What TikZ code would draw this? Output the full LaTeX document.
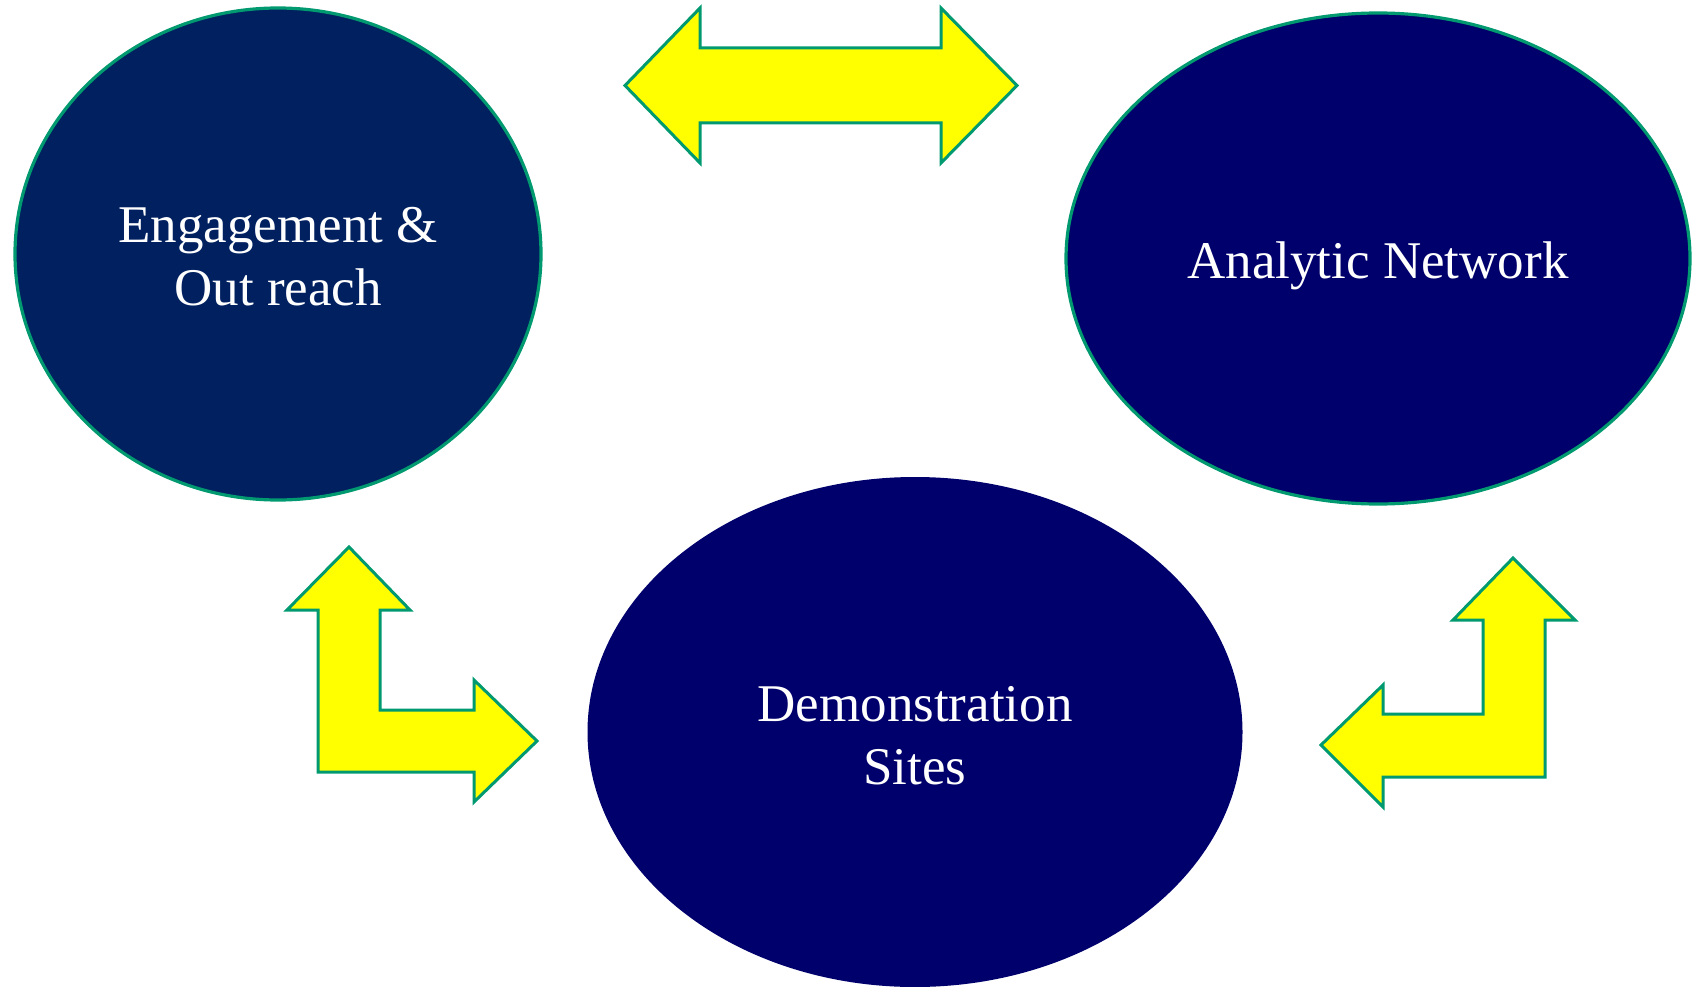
\documentclass[tikz,border=0pt]{standalone}
\usepackage{fontspec}
\setmainfont{Liberation Serif}
\usetikzlibrary{shapes.geometric}
\definecolor{navyA}{RGB}{0,32,96}
\definecolor{navyB}{RGB}{0,0,108}
\definecolor{rimgreen}{RGB}{0,153,112}
\definecolor{arrowyellow}{RGB}{255,255,0}
\tikzset{
  bubble/.style={ellipse, inner sep=0pt},
  bubbletext/.style={inner sep=0pt, text=white, align=center,
    font=\fontsize{53}{63}\selectfont},
  rimmed/.style={draw=rimgreen, line width=3.2pt},
  blockarrow/.style={fill=arrowyellow, draw=rimgreen, line width=3pt, line join=miter}
}
\begin{document}
\begin{tikzpicture}[x=1pt,y=-1pt]
\useasboundingbox (0,0) rectangle (1697,987);
% ellipses
\node[bubble, rimmed, fill=navyA, minimum width=526pt, minimum height=492pt] (eng) at (278,254) {};
\node[bubble, rimmed, fill=navyB, minimum width=624pt, minimum height=491pt] (ana) at (1378,258.5) {};
\node[bubble, fill=navyB, minimum width=655pt, minimum height=510pt] (demo) at (915,732) {};
\node[bubbletext] (engtext) at ([yshift=-3pt]eng.center) {Engagement \&\\Out reach};
\node[bubbletext] (anatext) at ([yshift=-7pt]ana.center) {Analytic Network};
\node[bubbletext] (demotext) at ([yshift=-4pt]demo.center) {Demonstration\\Sites};
% top double arrow
\draw[blockarrow] (625,85.5) -- (700,8) -- (700,48) -- (941,48) -- (941,8) -- (1017,85.5)
  -- (941,163) -- (941,123) -- (700,123) -- (700,163) -- cycle;
% left L arrow
\draw[blockarrow] (349,547) -- (410,610) -- (380,610) -- (380,710) -- (474,710) -- (474,680)
  -- (537,741) -- (474,802) -- (474,772) -- (318,772) -- (318,610) -- (287,610) -- cycle;
% right L arrow
\draw[blockarrow] (1513,558) -- (1575,620) -- (1545,620) -- (1545,777) -- (1383,777) -- (1383,807)
  -- (1321,745) -- (1383,685) -- (1383,714) -- (1483,714) -- (1483,620) -- (1453,620) -- cycle;
\end{tikzpicture}
\end{document}
